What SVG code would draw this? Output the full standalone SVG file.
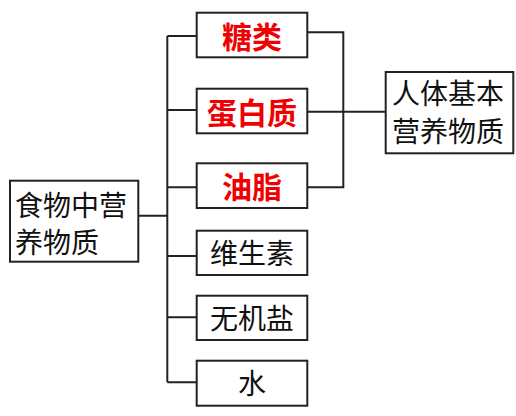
<svg xmlns="http://www.w3.org/2000/svg" width="516" height="416" viewBox="0 0 516 416">
<style>
.box{fill:#fff;stroke:#222;stroke-width:2}
.ln{fill:none;stroke:#222;stroke-width:2}
.t{font-family:"Noto Sans CJK SC","Noto Sans CJK JP",sans-serif;font-size:28px;fill:#111}
.r{font-family:"Noto Sans CJK SC","Noto Sans CJK JP",sans-serif;font-size:30px;font-weight:bold;fill:#f00000}
.m{text-anchor:middle}
</style>
<rect width="516" height="416" fill="#fff"/>
<g id="connectors">
<path class="ln" d="M138.3 215.7H167.3M167.3 36V382.3M167.3 36H196.7M167.3 110H196.7M167.3 187.3H196.7M167.3 256H196.7M167.3 317.3H196.7M167.3 382.3H196.7"/>
<path class="ln" d="M307.3 32.3H343.3V187.3H307.3M307.3 111.7H385.7"/>
</g>
<g id="food">
<rect class="box" x="10" y="180.7" width="128.3" height="81"/>
<text class="t" x="15" y="216">食物中营</text>
<text class="t" x="15" y="253">养物质</text>
</g>
<g id="basic">
<rect class="box" x="385.7" y="72" width="127.6" height="81.3"/>
<text class="t" x="392" y="104">人体基本</text>
<text class="t" x="392" y="141.5">营养物质</text>
</g>
<g id="sugar">
<rect class="box" x="196.7" y="12.7" width="110.6" height="44.6"/>
<text class="r m" x="252" y="48">糖类</text>
</g>
<g id="protein">
<rect class="box" x="196.7" y="88.7" width="110.6" height="44.6"/>
<text class="r m" x="252" y="124">蛋白质</text>
</g>
<g id="fat">
<rect class="box" x="196.7" y="163.3" width="110.6" height="44.7"/>
<text class="r m" x="252" y="198">油脂</text>
</g>
<g id="vitamin">
<rect class="box" x="196.7" y="230.7" width="110.6" height="44.3"/>
<text class="t m" x="252" y="264">维生素</text>
</g>
<g id="mineral">
<rect class="box" x="196.7" y="295.7" width="110.6" height="44.3"/>
<text class="t m" x="252" y="329">无机盐</text>
</g>
<g id="water">
<rect class="box" x="196.7" y="360.7" width="110.6" height="45"/>
<text class="t m" x="252" y="394">水</text>
</g>
</svg>
